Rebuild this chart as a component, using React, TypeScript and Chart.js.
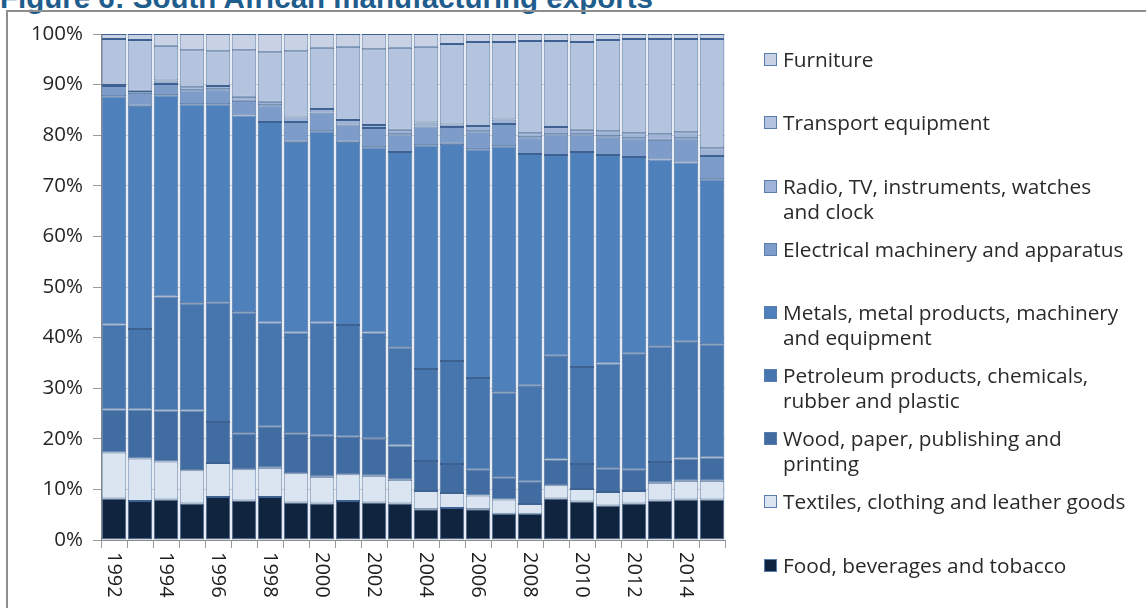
import React, { useEffect, useRef } from "react";
import { Chart, registerables } from "chart.js";

Chart.register(...registerables);

const years = [
  "1992", "1993", "1994", "1995", "1996", "1997", "1998", "1999", "2000", "2001", "2002", "2003",
  "2004", "2005", "2006", "2007", "2008", "2009", "2010", "2011", "2012", "2013", "2014", "2015",
];
const shownYears = ["1992", "1994", "1996", "1998", "2000", "2002", "2004", "2006", "2008", "2010", "2012", "2014"];
const yTickValues = [0, 10, 20, 30, 40, 50, 60, 70, 80, 90, 100];

const food = [8.2, 7.7, 8.0, 7.2, 8.5, 7.8, 8.5, 7.4, 7.2, 7.7, 7.4, 7.2, 6.1, 6.3, 6.1, 5.2, 5.2, 8.2, 7.6, 6.8, 7.2, 7.8, 8.0, 8.0];
const textiles = [9.1, 8.4, 7.5, 6.6, 6.7, 6.2, 5.8, 5.8, 5.3, 5.3, 5.3, 4.7, 3.6, 3.0, 2.7, 2.8, 1.9, 2.6, 2.5, 2.7, 2.5, 3.5, 3.7, 3.7];
const wood = [8.5, 9.7, 10.1, 11.8, 8.1, 7.1, 8.1, 7.9, 8.1, 7.4, 7.3, 6.8, 5.9, 5.7, 5.1, 4.4, 4.4, 5.1, 4.9, 4.7, 4.2, 4.1, 4.4, 4.6];
const petroleum = [16.8, 15.9, 22.5, 21.2, 23.7, 23.9, 20.6, 19.9, 22.4, 22.1, 21.0, 19.4, 18.2, 20.4, 18.1, 16.8, 19.0, 20.5, 19.2, 20.7, 22.9, 22.9, 23.1, 22.4];
const metals = [45.1, 44.1, 39.8, 39.3, 39.1, 38.9, 39.6, 37.7, 37.8, 36.2, 36.6, 38.6, 44.2, 42.9, 45.2, 48.6, 45.8, 39.7, 42.5, 41.2, 38.9, 36.9, 35.4, 32.6];
const electrical = [2.0, 2.6, 2.2, 2.8, 3.0, 2.9, 3.3, 3.9, 3.7, 3.4, 3.8, 3.5, 3.7, 3.3, 3.6, 4.4, 3.3, 4.1, 3.5, 3.7, 3.7, 3.9, 4.8, 4.6];
const radio = [0.2, 0.4, 0.7, 0.6, 0.6, 0.8, 0.7, 0.9, 0.7, 0.9, 0.6, 0.9, 0.8, 0.5, 1.0, 0.9, 0.8, 1.4, 0.9, 1.0, 1.0, 1.1, 1.2, 1.5];
const transport = [9.1, 10.0, 6.9, 7.3, 6.9, 9.2, 9.8, 13.1, 12.1, 14.5, 15.0, 16.2, 15.0, 15.9, 16.6, 15.3, 18.2, 17.0, 17.3, 18.0, 18.6, 18.8, 18.4, 21.6];
const furniture = [1.0, 1.2, 2.3, 3.2, 3.4, 3.2, 3.6, 3.4, 2.7, 2.5, 3.0, 2.7, 2.5, 2.0, 1.6, 1.6, 1.4, 1.4, 1.6, 1.2, 1.0, 1.0, 1.0, 1.0];

// bottom to top stacking order
const seriesNames = [
  "Food, beverages and tobacco",
  "Textiles, clothing and leather goods",
  "Wood, paper, publishing and\nprinting",
  "Petroleum products, chemicals,\nrubber and plastic",
  "Metals, metal products, machinery\nand equipment",
  "Electrical machinery and apparatus",
  "Radio, TV, instruments, watches\nand clock",
  "Transport equipment",
  "Furniture",
];
const seriesValues = [food, textiles, wood, petroleum, metals, electrical, radio, transport, furniture];
const seriesColors = ["#10243f", "#dbe5f1", "#416ca2", "#4776ae", "#4e80bc", "#7e9cca", "#9fb3d8", "#b4c3de", "#c9d2e5"];

// legend first-line centre positions (top to bottom: Furniture ... Food)
const legendY = [59, 122, 186, 249, 312, 375, 438, 501, 565];

const FONT = "'Open Sans', 'Noto Sans', sans-serif";

const xLabelPlugin = {
  id: "xLabelPlugin",
  afterDraw(chart: any) {
    const { ctx } = chart;
    const x = chart.scales.x;
    ctx.save();
    ctx.font = `20px ${FONT}`;
    ctx.fillStyle = "#1e1e1e";
    ctx.textAlign = "left";
    ctx.textBaseline = "middle";
    years.forEach((yr, i) => {
      if (!shownYears.includes(yr)) return;
      const px = x.getPixelForValue(i);
      ctx.save();
      ctx.translate(px, chart.chartArea.bottom + 12);
      ctx.rotate(Math.PI / 2);
      ctx.fillText(yr, 0, 0);
      ctx.restore();
    });
    ctx.restore();
  },
};

export default function App() {
  const canvasRef = useRef<HTMLCanvasElement | null>(null);

  useEffect(() => {
    if (!canvasRef.current) return;
    const chart = new Chart(canvasRef.current, {
      type: "bar",
      data: {
        labels: years,
        datasets: seriesValues.map((vals, i) => ({
          label: seriesNames[i].replace("\n", " "),
          data: vals,
          backgroundColor: seriesColors[i],
          borderColor: "#3d6291",
          borderWidth: 1,
          borderSkipped: false,
          barPercentage: 0.95,
          categoryPercentage: 1,
        })),
      },
      options: {
        responsive: false,
        animation: false,
        layout: { padding: { left: 20, right: 421, top: 34, bottom: 60 } },
        plugins: {
          legend: { display: false },
          title: { display: false },
          tooltip: { enabled: false },
        },
        scales: {
          x: {
            stacked: true,
            grid: {
              display: true,
              drawOnChartArea: false,
              drawTicks: true,
              tickLength: 8,
              tickColor: "#9a9a9a",
              offset: true,
            },
            border: { display: true, color: "#8a8a8a", width: 1 },
            ticks: { display: false },
            afterFit: (scale: any) => {
              scale.height = 8;
            },
          },
          y: {
            stacked: true,
            min: 0,
            max: 100,
            afterBuildTicks: (scale: any) => {
              scale.ticks = yTickValues.map((v) => ({ value: v }));
            },
            ticks: {
              callback: (v: any) => `${v}%`,
              font: { family: FONT, size: 20.5 },
              color: "#262626",
              padding: 10,
            },
            grid: {
              color: "#d9d9d9",
              lineWidth: 1,
              tickLength: 8,
              tickColor: "#9a9a9a",
            },
            border: { display: true, color: "#8a8a8a", width: 1 },
            afterFit: (scale: any) => {
              scale.width = 81;
            },
          },
        },
      },
      plugins: [xLabelPlugin],
    });
    return () => chart.destroy();
  }, []);

  const legendOrder = seriesNames.map((_, i) => i).reverse();

  return (
    <div
      style={{
        position: "absolute",
        left: 0,
        top: 0,
        width: 1146,
        height: 608,
        overflow: "hidden",
        background: "#ffffff",
      }}
    >
      <div
        style={{
          position: "absolute",
          left: 0,
          top: -17,
          fontFamily: "'Liberation Sans', Arial, sans-serif",
          fontWeight: "bold",
          fontSize: 29.5,
          lineHeight: "29px",
          color: "#1f5d8c",
          whiteSpace: "nowrap",
        }}
      >
        Figure 6: South African manufacturing exports
      </div>
      <div
        style={{
          position: "absolute",
          left: 6,
          top: 10,
          width: 1200,
          height: 700,
          border: "2px solid #8e8e8e",
        }}
      />
      <canvas
        ref={canvasRef}
        width={1146}
        height={608}
        style={{ position: "absolute", left: 0, top: 0, width: 1146, height: 608 }}
      />
      {legendOrder.map((si, k) => (
        <div key={si}>
          <div
            style={{
              position: "absolute",
              left: 764,
              top: legendY[k] - 6,
              width: 11,
              height: 11,
              background: seriesColors[si],
              border: "1px solid #5a7db0",
            }}
          />
          <div
            style={{
              position: "absolute",
              left: 783,
              top: legendY[k] - 12.5,
              fontFamily: FONT,
              fontSize: 20.8,
              lineHeight: "25px",
              color: "#2a2a2a",
              whiteSpace: "pre-line",
            }}
          >
            {seriesNames[si]}
          </div>
        </div>
      ))}
    </div>
  );
}
